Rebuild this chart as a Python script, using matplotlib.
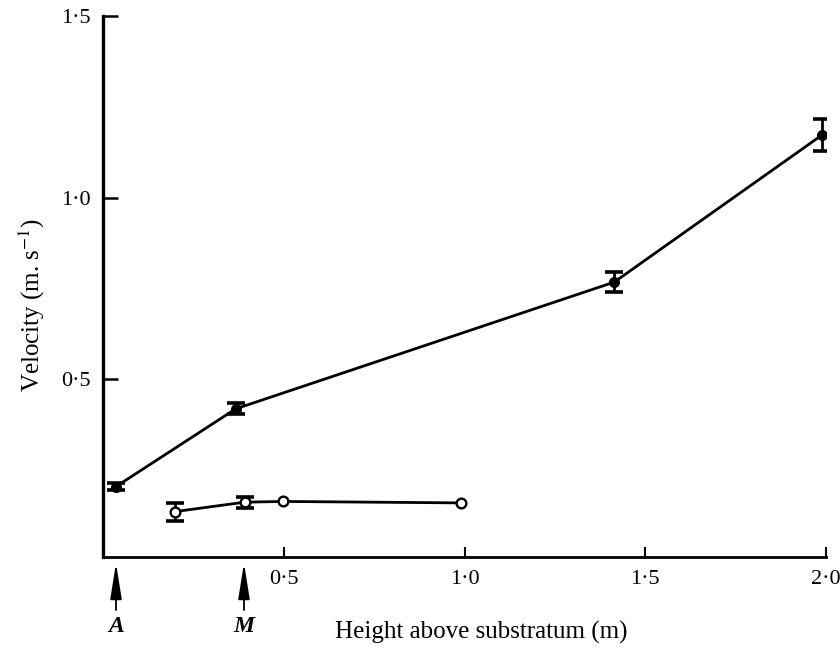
import matplotlib
matplotlib.use("Agg")
import matplotlib.pyplot as plt

plt.rcParams['font.family'] = ['Liberation Serif', 'DejaVu Serif']
plt.rcParams['mathtext.fontset'] = 'stix'

# Data
upper_x = [0.036, 0.367, 1.414, 1.99]
upper_y = [0.204, 0.418, 0.767, 1.173]
upper_err = [0.010, 0.015, 0.028, 0.044]

lower_x = [0.199, 0.392, 0.498, 0.991]
lower_y = [0.135, 0.161, 0.163, 0.159]
lower_err = [0.025, 0.015, 0.0, 0.0]

xticks = [0.5, 1.0, 1.5, 2.0]
xticklabels = ['0·5', '1·0', '1·5', '2·0']
yticks = [0.5, 1.0, 1.5]
yticklabels = ['0·5', '1·0', '1·5']

marker_x = [0.036, 0.39]
marker_labels = ['A', 'M']

fig = plt.figure(figsize=(8.4, 6.49), dpi=100)
ax = fig.add_axes([103/840, (649-557)/649, 723/840, 541/649])

eb_kw = dict(fmt='none', ecolor='black', elinewidth=2.0, capsize=6.5,
             capthick=2.6, zorder=2)

# upper series (filled circles)
ax.errorbar(upper_x, upper_y, yerr=upper_err, **eb_kw)
ax.plot(upper_x, upper_y, color='black', lw=2.0, marker='o', ms=7,
        mfc='black', mec='black', zorder=3)

# lower series (open circles); error bars only where an error was shown
sel = [i for i, e in enumerate(lower_err) if e > 0]
ax.errorbar([lower_x[i] for i in sel], [lower_y[i] for i in sel],
            yerr=[lower_err[i] for i in sel], **eb_kw)
ax.plot(lower_x, lower_y, color='black', lw=2.0, marker='o', ms=7,
        mfc='white', mec='black', mew=1.7, zorder=3)

ax.set_xlim(0, 2.0)
ax.set_ylim(0.01, 1.5)

for s in ['top', 'right']:
    ax.spines[s].set_visible(False)
ax.spines['left'].set_linewidth(2.4)
ax.spines['bottom'].set_linewidth(2.0)

ax.set_xticks(xticks)
ax.set_xticklabels(xticklabels)
ax.set_yticks(yticks)
ax.set_yticklabels(yticklabels)
ax.tick_params(axis='x', direction='in', length=7, width=1.5, pad=9, labelsize=16)
ax.tick_params(axis='y', direction='in', length=11, width=1.8, pad=9, labelsize=16)

ax.set_xlabel('Height above substratum (m)', fontsize=18, va='center')
ax.xaxis.set_label_coords((481-103)/723, -(632-557)/541)
ax.set_ylabel('Velocity (m. s$^{-1}$)', fontsize=18, va='center')
ax.yaxis.set_label_coords((32-103)/723, (557-305)/541)

trans = ax.get_xaxis_transform()
for mx, lab in zip(marker_x, marker_labels):
    ax.annotate('', xy=(mx, -6/541), xytext=(mx, -53/541), xycoords=trans,
                textcoords=trans, annotation_clip=False,
                arrowprops=dict(arrowstyle='-|>,head_length=2.2,head_width=0.35',
                                mutation_scale=10, lw=1.3, color='black',
                                shrinkA=0, shrinkB=0))
    ax.text(mx, -70/541, lab, transform=trans, ha='center', va='center',
            fontsize=17, fontweight='bold', fontstyle='italic', clip_on=False)

fig.savefig('out.png', dpi=100)
